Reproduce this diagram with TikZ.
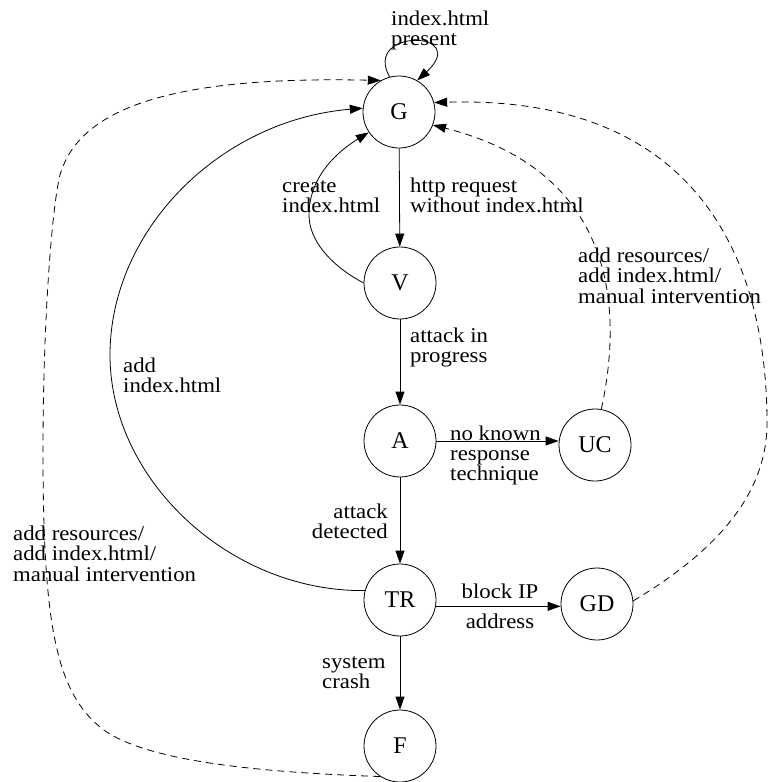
\documentclass[tikz,border=0pt]{standalone}
\usepackage{fontspec}
\setmainfont{Liberation Serif}[FakeStretch=1.085]
\newfontfamily\nodeletters{Liberation Serif}
\usetikzlibrary{arrows.meta}
\newcommand\mlines[1]{\begin{tabular}[t]{@{}l@{}}#1\end{tabular}}
\newcommand\mlinesr[1]{\begin{tabular}[t]{@{}r@{}}#1\end{tabular}}
\begin{document}
\begin{tikzpicture}[x=1pt,y=-1pt,
  state/.style={circle,draw,line width=0.8pt,minimum size=72pt,inner sep=0pt,font={\nodeletters\fontsize{24}{24}\selectfont}},
  lbl/.style={inner sep=0pt,anchor=base west,font={\fontsize{21}{20}\selectfont}},
  lblr/.style={lbl,anchor=base east},
  lblc/.style={lbl,anchor=base},
  arr/.style={line width=0.8pt,-{Triangle[length=13pt,width=9pt]}},
  darr/.style={arr,dash pattern=on 7pt off 5pt}]
\useasboundingbox (0,0) rectangle (768,782);

\node[state] (G) at (399,112) {G};
\node[state] (V) at (400,283) {V};
\node[state] (A) at (400,441) {A};
\node[state] (UC) at (595,445) {UC};
\node[state] (TR) at (400,600) {TR};
\node[state] (GD) at (597,604) {GD};
\node[state] (F) at (400,746) {F};

\draw[arr] (G.105) .. controls (362,28) and (472,30) .. (G.60);
\draw[arr] (G) -- (V);
\draw[arr] (V) -- (A);
\draw[arr] (A.east) -- (A.east -| UC.west);
\draw[arr] (A) -- (TR);
\draw[arr] (TR.-10) -- (TR.-10 -| GD.west);
\draw[arr] (TR) -- (F);
\draw[arr] (V.west) .. controls (330,265) and (309,240) .. (309,215) .. controls (309,175) and (340,150) .. (G.214);
\draw[arr] (TR.165) .. controls (230,592) and (110,480) .. (110,355) .. controls (110,230) and (220,120) .. (G.174);
\draw[darr] (UC.80) .. controls (625,300) and (610,170) .. (G.-21);
\draw[darr] (GD.5) .. controls (735,540) and (768,480) .. (767,420) .. controls (766,250) and (690,95) .. (G.15);
\draw[darr] (F.237) .. controls (250,772) and (140,760) .. (100,727) .. controls (55,690) and (43,620) .. (43,450) .. controls (43,320) and (52,207) .. (60,175) .. controls (80,105) and (180,76) .. (G.120);

\node[lbl] (lpresent) at (391,25) {\mlines{index.html\\present}};
\node[lbl] (lhttp) at (410,192) {\mlines{http request\\without index.html}};
\node[lbl] (lcreate) at (282,192) {\mlines{create\\index.html}};
\node[lbl] (lres1) at (578,262) {\mlines{add resources/\\add index.html/\\manual intervention}};
\node[lbl] (laddidx) at (123,372) {\mlines{add\\index.html}};
\node[lbl] (lattack) at (410,342) {\mlines{attack in\\progress}};
\node[lbl] (lnoknown) at (450,440) {\mlines{no known\\response\\technique}};
\node[lblr] (ldetected) at (388,518) {\mlinesr{attack\\detected}};
\node[lbl] (lres2) at (13,540) {\mlines{add resources/\\add index.html/\\manual intervention}};
\node[lblc] (lblock) at (500,598) {block IP};
\node[lblc] (laddress) at (500,628) {address};
\node[lbl] (lsystem) at (322,668) {\mlines{system\\crash}};
\end{tikzpicture}
\end{document}
